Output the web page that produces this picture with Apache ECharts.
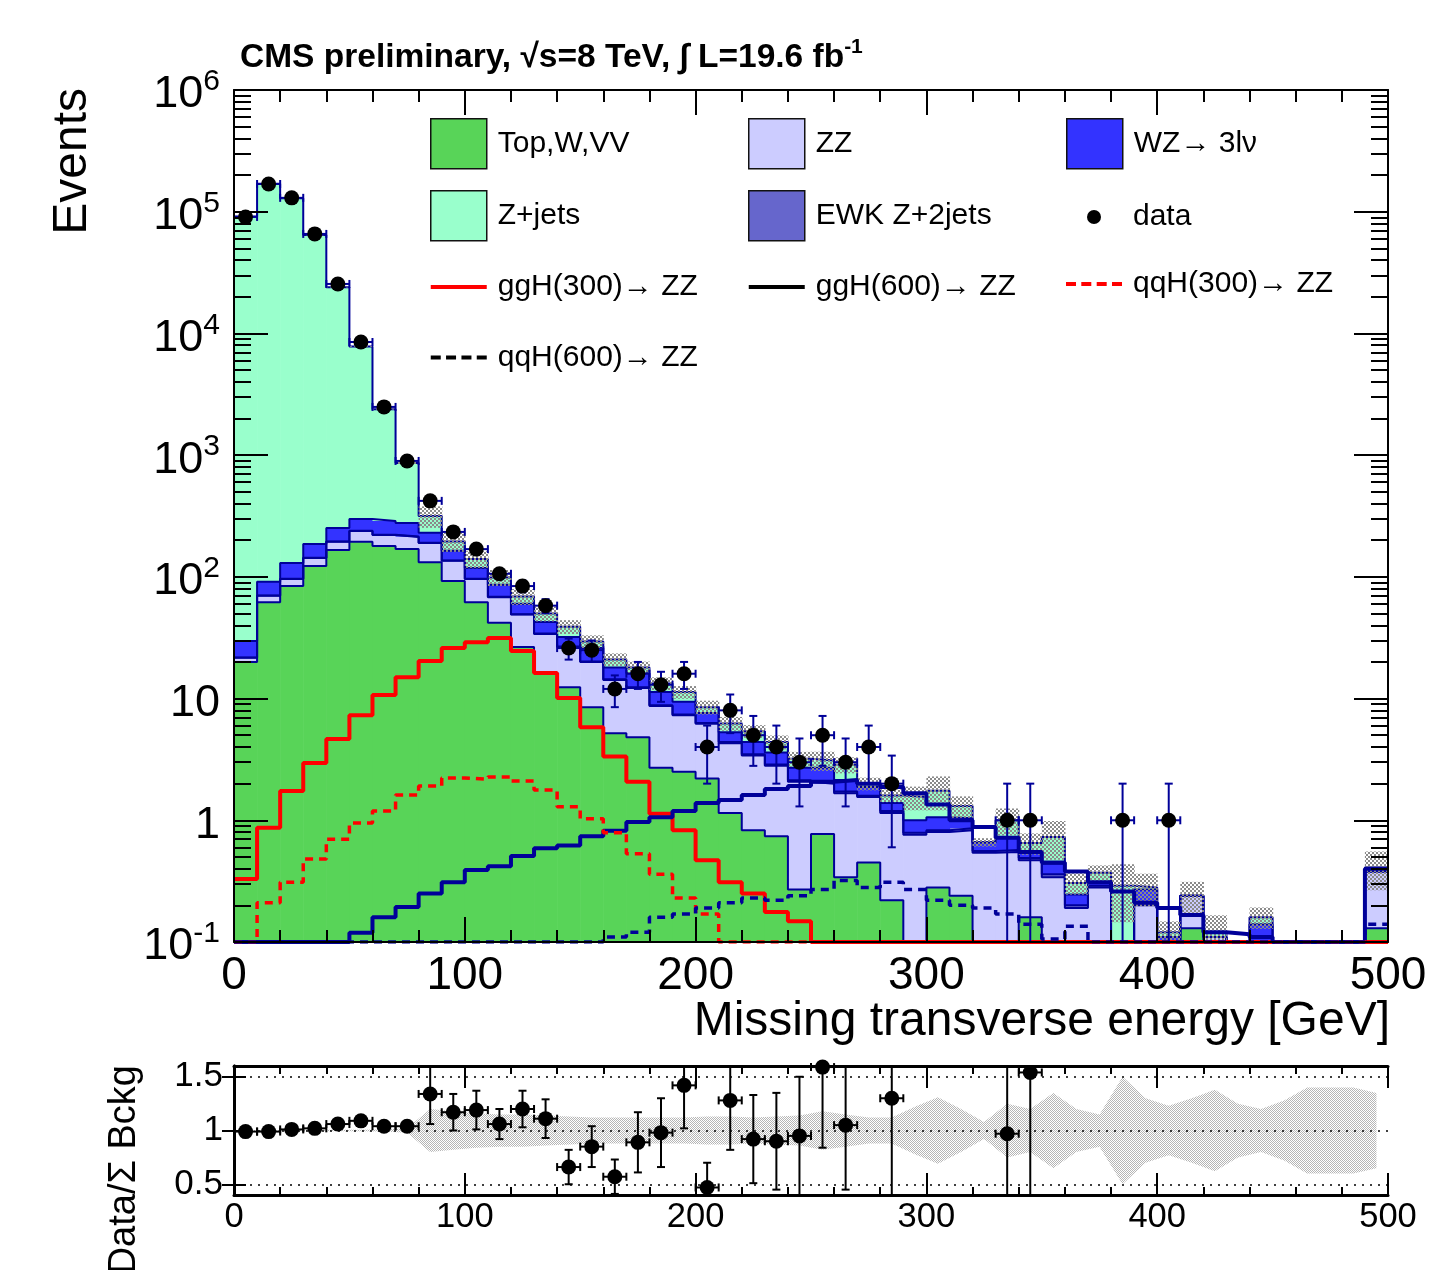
<!DOCTYPE html>
<html>
<head>
<meta charset="utf-8">
<script src="https://cdn.jsdelivr.net/npm/echarts@6/dist/echarts.min.js"></script>
<style>
html,body{margin:0;padding:0;background:#ffffff;}
#chart{width:1433px;height:1270px;}
</style>
</head>
<body>
<div id="chart"></div>
<script>
// ---------------- data ----------------
const binLow = [0,10,20,30,40,50,60,70,80,90,100,110,120,130,140,150,160,170,180,190,
  200,210,220,230,240,250,260,270,280,290,300,310,320,330,340,350,360,370,380,390,
  400,410,420,430,440,450,460,470,480,490];
const BIN_W = 10;

const dataCounts = [90600,169000,130000,65700,25500,8500,2490,896,421,234,
  169,106,84,58,26,25,12,16,13,16,
  4,8,5,4,3,5,3,4,2,0,
  0,0,0,1,1,0,0,0,1,0,
  1,0,0,0,0,0,0,0,0,0];
const dataErr = [301,411,361,256,160,92,50,30,20.5,15.3,
  13,10.3,9.2,7.6,5.1,5,3.5,4,3.6,4,
  2,2.8,2.2,2,1.7,2.2,1.7,2,1.4,0,
  0,0,0,1,1,0,0,0,1,0,
  1,0,0,0,0,0,0,0,0,0];

const topWVV = [20,62,84,123,166,194,179,169,132,92.5,
  62,42,26.5,16.2,12.4,8.5,5.2,4.8,2.7,2.5,
  2.2,1.15,0.83,0.74,0.27,0.77,0.34,0.45,0.22,0,
  0.28,0.24,0,0,0.16,0,0,0,0,0,
  0,0.13,0,0,0,0,0,0,0,0.13];
const zzBkg = [1.6,8,12,20,28,44,42,44,58,43,
  34,26,22.5,17.8,14.1,11.5,9.0,7.4,6.0,4.8,
  4.0,3.15,2.57,2.06,1.8,1.23,1.33,1.1,0.93,0.76,
  0.52,0.59,0.54,0.55,0.31,0.34,0.19,0.28,0,0.2,
  0.05,0.11,0.11,0,0.02,0,0,0,0,0.25];
const ewkBkg = [0.15,0.4,0.6,0.8,1.0,1.2,1.2,1.1,0.9,0.7,
  0.6,0.5,0.4,0.3,0.25,0.2,0.18,0.16,0.13,0.11,
  0.1,0.09,0.08,0.07,0.06,0.05,0.05,0.04,0.04,0.03,
  0.03,0.03,0.02,0.02,0.02,0.02,0.01,0.01,0,0.01,
  0.01,0,0,0,0.01,0,0,0,0,0];
const wzBkg = [7.9,20.6,33.4,42.2,57,59.8,65.8,62.9,39.1,27.3,
  21.4,17.5,10.6,8.3,5.25,5.8,3.6,3.8,2.5,2.0,
  1.3,0.91,0.92,0.73,0.57,0.65,0.42,0.29,0.2,0.21,
  0.23,0.18,0.1,0.15,0.06,0.08,0.046,0.02,0,0.06,
  0.05,0,0,0,0.11,0,0,0,0,0];
const zjetsBkg = [91470,169900,128870,64210,23750,7500,2100,585,86,32,
  22,13,9,7.4,7,3.5,3,1.8,2.0,1.9,
  0.9,0.95,1.0,0.8,0.5,0.4,0.72,0.12,0.21,0.55,
  0.69,0.27,0,0.28,0.1,0.29,0.06,0.06,0.29,0.01,
  0.01,0,0.01,0,0.02,0,0,0,0,0.03];
const totalRelUnc = [0.005,0.005,0.005,0.005,0.006,0.008,0.01,0.02,0.2,0.18,
  0.16,0.15,0.15,0.14,0.13,0.12,0.12,0.12,0.12,0.12,
  0.13,0.13,0.12,0.13,0.14,0.18,0.15,0.12,0.12,0.22,
  0.31,0.2,0.08,0.25,0.2,0.35,0.2,0.15,0.5,0.3,
  0.23,0.3,0.38,0.25,0.2,0.28,0.4,0.4,0.4,0.35];

const ggH300 = [0.33,0.87,1.74,2.96,4.66,7.3,10.7,15,20.4,26,
  29,31.5,24.6,16.2,10.1,5.8,3.35,2.07,1.13,0.83,
  0.47,0.31,0.25,0.176,0.148,0,0,0,0,0,
  0,0,0,0,0,0,0,0,0,0,
  0,0,0,0,0,0,0,0,0,0];
const ggH600 = [0,0,0,0,0,0.119,0.16,0.194,0.25,0.31,
  0.39,0.42,0.51,0.59,0.62,0.74,0.82,0.97,1.06,1.19,
  1.39,1.47,1.61,1.81,1.91,2.07,2.14,2.0,1.88,1.67,
  1.35,1.0,0.88,0.72,0.55,0.45,0.38,0.31,0.26,0.21,
  0.19,0.167,0.12,0.116,0.11,0,0,0,0,0.4];
const qqH300 = [0,0.21,0.31,0.48,0.70,0.95,1.19,1.61,1.91,2.23,
  2.18,2.27,2.1,1.77,1.29,1.03,0.79,0.53,0.36,0.23,
  0.17,0,0,0,0,0,0,0,0,0,
  0,0,0,0,0,0,0,0,0,0,
  0,0,0,0,0,0,0,0,0,0];
const qqH600 = [0,0,0,0,0,0,0,0,0,0,
  0,0,0,0,0,0,0.11,0.12,0.16,0.17,
  0.19,0.21,0.23,0.22,0.24,0.27,0.32,0.28,0.31,0.27,
  0.22,0.2,0.19,0.17,0.14,0.106,0.135,0.1,0,0,
  0,0,0,0,0,0,0,0,0,0.14];

const ratioVals = [0.99,0.99,1.01,1.02,1.06,1.09,1.04,1.04,1.34,1.17,
  1.19,1.06,1.2,1.11,0.66,0.85,0.57,0.89,0.98,1.42,
  0.47,1.28,0.92,0.9,0.95,1.59,1.05,null,1.3,null,
  null,null,null,0.97,1.54,null,null,null,null,null,
  null,null,null,null,null,null,null,null,null,null];
const ratioErr = [0.005,0.005,0.005,0.005,0.008,0.012,0.02,0.035,0.28,0.17,
  0.18,0.14,0.17,0.18,0.16,0.19,0.16,0.28,0.32,0.4,
  0.23,0.46,0.41,0.45,0.55,0.75,0.6,null,0.9,null,
  null,null,null,1.0,1.54,null,null,null,null,null,
  null,null,null,null,null,null,null,null,null,null];

const mainYTicks = [0.1,1,10,100,1000,10000,100000,1000000];
const ratioYTicks = [0.5,1,1.5];

// ---------------- styling ----------------
const FONT = "'Liberation Sans', Arial, Helvetica, sans-serif";
const NAVY = '#000099';
const Y_MIN = 0.1, Y_MAX = 1e6;
const R_MIN = 0.4, R_MAX = 1.6;

const minorYTicks = [];
for (let e = -1; e <= 5; e++) for (let m = 2; m <= 9; m++) minorYTicks.push(Number((m * Math.pow(10, e)).toPrecision(3)));

function makePattern(size, cells, color) {
  const c = document.createElement('canvas');
  c.width = size; c.height = size;
  const ctx = c.getContext('2d');
  ctx.fillStyle = color;
  cells.forEach(r => ctx.fillRect(r[0], r[1], r[2], r[3]));
  return {image: c, repeat: 'repeat'};
}
const hatchFill = makePattern(4, [[0,0,2,2],[2,2,2,2]], '#8a8a8a');
const bandFill = makePattern(2, [[0,0,1,1],[1,1,1,1]], '#b5b5b5');

const components = [
  {name: 'Top,W,VV', vals: topWVV, color: '#58d458'},
  {name: 'ZZ', vals: zzBkg, color: '#ccccff'},
  {name: 'EWK Z+2jets', vals: ewkBkg, color: '#6666cc'},
  {name: 'WZ→ 3lν', vals: wzBkg, color: '#3333ff'},
  {name: 'Z+jets', vals: zjetsBkg, color: '#99ffcc'}
];
let cum = binLow.map(() => 0);
const levels = components.map(c => {
  const lo = cum.slice();
  cum = cum.map((v, i) => v + c.vals[i]);
  return {lo, hi: cum.slice()};
});
const total = cum;
const clampY = v => Math.max(v, Y_MIN);

function rectRender(fill) {
  return function (params, api) {
    const lo = api.value(0), hi = api.value(1), b = api.value(2), t = api.value(3);
    if (!(t > b)) return null;
    const p0 = api.coord([lo, Math.min(t, Y_MAX)]);
    const p1 = api.coord([hi, Math.max(b, Y_MIN)]);
    return {type: 'rect', shape: {x: p0[0], y: p0[1], width: p1[0] - p0[0] + 0.6, height: p1[1] - p0[1]},
      style: {fill: fill}};
  };
}
function stepLine(vals, color, width, type, z, name) {
  const d = binLow.map((x, i) => [x, clampY(vals[i])]);
  d.push([binLow[binLow.length - 1] + BIN_W, clampY(vals[vals.length - 1])]);
  const s = {type: 'line', xAxisIndex: 0, yAxisIndex: 0, z: z, step: 'end', symbol: 'none', silent: true,
    clip: true, color: color, lineStyle: {color: color, width: width, type: type, cap: 'butt'}, data: d};
  if (name) s.name = name;
  return s;
}

const series = [];
components.forEach((c, k) => {
  series.push({
    type: 'custom', name: c.name, xAxisIndex: 0, yAxisIndex: 0, z: 2, silent: true,
    itemStyle: {color: c.color},
    encode: {x: [0, 1], y: [2, 3]},
    data: binLow.map((x, i) => [x, x + BIN_W, clampY(levels[k].lo[i]), clampY(levels[k].hi[i])]),
    renderItem: rectRender(c.color)
  });
});
components.forEach((c, k) => series.push(stepLine(levels[k].hi, NAVY, 2, 'solid', 3)));
// uncertainty hatch on the total
series.push({
  type: 'custom', xAxisIndex: 0, yAxisIndex: 0, z: 4, silent: true,
  encode: {x: [0, 1], y: [2, 3]},
  data: binLow.map((x, i) => [x, x + BIN_W, clampY(total[i] * (1 - totalRelUnc[i])), clampY(total[i] * (1 + totalRelUnc[i]))]),
  renderItem: rectRender(hatchFill)
});
// signals
series.push(stepLine(ggH300, '#ff0000', 4, 'solid', 5, 'ggH(300)→ ZZ'));
series.push(stepLine(ggH600, NAVY, 4, 'solid', 5, 'ggH(600)→ ZZ'));
series.push(stepLine(qqH300, '#ff0000', 3.5, [8, 6], 5, 'qqH(300)→ ZZ'));
series.push(stepLine(qqH600, NAVY, 3.5, [8, 6], 5, 'qqH(600)→ ZZ'));

// data points
function errRender(color, yMin, yMax) {
  return function (params, api) {
    const x = api.value(0), v = api.value(1), e = api.value(2), lo = api.value(3), hi = api.value(4);
    const topV = Math.min(v + e, yMax), botV = Math.max(v - e, yMin);
    const pc = api.coord([x, v]), pt = api.coord([x, topV]), pb = api.coord([x, botV]);
    const pl = api.coord([lo, v]), pr = api.coord([hi, v]);
    const st = {stroke: color, lineWidth: 2};
    const ch = [
      {type: 'line', shape: {x1: pc[0], y1: pt[1], x2: pc[0], y2: pb[1]}, style: st},
      {type: 'line', shape: {x1: pl[0], y1: pc[1], x2: pr[0], y2: pc[1]}, style: st},
      {type: 'line', shape: {x1: pl[0], y1: pc[1] - 4, x2: pl[0], y2: pc[1] + 4}, style: st},
      {type: 'line', shape: {x1: pr[0], y1: pc[1] - 4, x2: pr[0], y2: pc[1] + 4}, style: st}
    ];
    if (v + e < yMax) ch.push({type: 'line', shape: {x1: pc[0] - 4, y1: pt[1], x2: pc[0] + 4, y2: pt[1]}, style: st});
    if (v - e > yMin) ch.push({type: 'line', shape: {x1: pc[0] - 4, y1: pb[1], x2: pc[0] + 4, y2: pb[1]}, style: st});
    return {type: 'group', children: ch};
  };
}
const mainPts = [], mainErr = [];
binLow.forEach((x, i) => {
  if (dataCounts[i] > 0) {
    mainPts.push([x + BIN_W / 2, dataCounts[i]]);
    mainErr.push([x + BIN_W / 2, dataCounts[i], dataErr[i], x, x + BIN_W]);
  }
});
series.push({type: 'custom', xAxisIndex: 0, yAxisIndex: 0, z: 6, silent: true,
  encode: {x: [0, 3, 4], y: [1]}, data: mainErr, renderItem: errRender(NAVY, Y_MIN, Y_MAX)});
series.push({type: 'scatter', name: 'data', xAxisIndex: 0, yAxisIndex: 0, z: 7, silent: true,
  symbol: 'circle', symbolSize: 15, itemStyle: {color: '#000', opacity: 1}, data: mainPts});

// ratio panel
const centers = binLow.map(x => x + BIN_W / 2);
series.push({type: 'custom', xAxisIndex: 2, yAxisIndex: 4, z: 2, silent: true,
  encode: {x: [0], y: [1, 2]},
  data: centers.map((c, i) => [c, 1 + totalRelUnc[i], 1 - totalRelUnc[i]]),
  renderItem: function (params, api) {
    if (params.dataIndexInside !== 0) return null;
    const n = params.dataInsideLength;
    const up = [], dn = [];
    for (let j = 0; j < n; j++) {
      const x = api.value(0, j);
      up.push(api.coord([x, Math.min(api.value(1, j), R_MAX)]));
      dn.push(api.coord([x, Math.max(api.value(2, j), R_MIN)]));
    }
    return {type: 'polygon', shape: {points: up.concat(dn.reverse())}, style: {fill: bandFill}};
  }
});
const rPts = [], rErr = [];
binLow.forEach((x, i) => {
  const r = ratioVals[i];
  if (r !== null && r >= R_MIN && r <= R_MAX) {
    rPts.push([x + BIN_W / 2, r]);
    rErr.push([x + BIN_W / 2, r, ratioErr[i], x, x + BIN_W]);
  }
});
series.push({type: 'custom', xAxisIndex: 2, yAxisIndex: 4, z: 6, silent: true,
  encode: {x: [0, 3, 4], y: [1]}, data: rErr, renderItem: errRender('#000', R_MIN, R_MAX)});
series.push({type: 'scatter', xAxisIndex: 2, yAxisIndex: 4, z: 7, silent: true,
  symbol: 'circle', symbolSize: 15, itemStyle: {color: '#000', opacity: 1}, data: rPts});

// ---------------- axes ----------------
const tickStyle = w => ({color: '#000', width: w});
function xAxisDef(grid, pos, showLabel, fs, lw, majLen, minLen, margin) {
  return {type: 'value', gridIndex: grid, position: pos, min: 0, max: 500, interval: 100, z: 10,
    axisLine: {show: true, onZero: false, lineStyle: tickStyle(lw)},
    axisTick: {show: true, inside: true, length: majLen, lineStyle: tickStyle(2)},
    minorTick: {show: true, splitNumber: 5, length: minLen, lineStyle: tickStyle(2)},
    axisLabel: {show: showLabel, fontSize: fs, color: '#000', fontFamily: FONT, margin: margin},
    splitLine: {show: false}, minorSplitLine: {show: false}};
}
const yLabelRich = {
  b: {fontSize: 45, fontFamily: FONT, color: '#000', lineHeight: 46, padding: [10, 0, 0, 0]},
  s: {fontSize: 30, fontFamily: FONT, color: '#000', lineHeight: 30, verticalAlign: 'top'}
};
function logAxisDef(pos, ticks, len, showLabel, showLine) {
  return {type: 'log', logBase: 10, gridIndex: 0, position: pos, min: Y_MIN, max: Y_MAX, z: 10,
    axisLine: {show: showLine, lineStyle: tickStyle(2)},
    axisTick: {show: true, inside: true, length: len, customValues: ticks, lineStyle: tickStyle(2)},
    axisLabel: {show: showLabel, customValues: ticks, margin: 14, rich: yLabelRich,
      formatter: v => {
        const e = Math.round(Math.log10(v));
        if (e === 0) return '{b|1}';
        if (e === 1) return '{b|10}';
        return '{b|10}{s|' + e + '}';
      }},
    minorTick: {show: false}, splitLine: {show: false}};
}
function ratioYDef(pos, showLabel) {
  return {type: 'value', gridIndex: 1, position: pos, min: R_MIN, max: R_MAX, z: 10,
    axisLine: {show: true, lineStyle: tickStyle(3)},
    axisTick: {show: true, inside: true, length: 12, customValues: ratioYTicks, lineStyle: tickStyle(2)},
    axisLabel: {show: showLabel, customValues: ratioYTicks, fontSize: 35, color: '#000', fontFamily: FONT, margin: 11},
    splitLine: {show: pos === 'left', lineStyle: {color: '#000', width: 1.6, type: [2, 6]}},
    minorTick: {show: false}};
}

// ---------------- legend ----------------
const solidIcon = 'path://M0,0H56V4H0Z';
const dashIcon = 'path://M0,0H10V4H0ZM15.3,0H25.3V4H15.3ZM30.7,0H40.7V4H30.7ZM46,0H56V4H46Z';
const legText = {fontSize: 30, color: '#000', fontFamily: FONT, lineHeight: 50, padding: [0, 0, 0, 6]};
function legend(left, top, w, h, items, textStyle) {
  return {orient: 'vertical', left: left, top: top, itemWidth: w, itemHeight: h, itemGap: 20.5,
    padding: 0, selectedMode: false, textStyle: textStyle || legText, data: items};
}
const boxItem = (name, color) => ({name, icon: 'rect', itemStyle: {color, borderColor: '#111', borderWidth: 1.5}});
const lineItem = (name, color, dashed) => ({name, icon: dashed ? dashIcon : solidIcon, itemStyle: {color, borderWidth: 0}});

const option = {
  animation: false,
  backgroundColor: '#ffffff',
  title: {
    left: 240, top: 37, padding: 0,
    text: '{a|CMS preliminary, √s=8 TeV, ∫ L=19.6 fb}{u|-1}',
    textStyle: {rich: {
      a: {fontSize: 33.5, fontWeight: 'bold', fontFamily: FONT, color: '#000', lineHeight: 34, padding: [8, 0, 0, 0]},
      u: {fontSize: 21, fontWeight: 'bold', fontFamily: FONT, color: '#000', lineHeight: 22, verticalAlign: 'top'}
    }}
  },
  legend: [
    legend(430, 118, 56, 50, [boxItem('Top,W,VV', '#58d458'), boxItem('Z+jets', '#99ffcc'),
      lineItem('ggH(300)→ ZZ', '#ff0000', false), lineItem('qqH(600)→ ZZ', '#000000', true)]),
    legend(748, 118, 56, 50, [boxItem('ZZ', '#ccccff'), boxItem('EWK Z+2jets', '#6666cc'),
      lineItem('ggH(600)→ ZZ', '#000000', false)]),
    legend(1066, 118, 56, 50, [boxItem('WZ→ 3lν', '#3333ff')]),
    legend(1087, 202, 56, 14, [{name: 'data', icon: 'circle', itemStyle: {color: '#000', borderWidth: 0, opacity: 1}}],
      {fontSize: 30, color: '#000', fontFamily: FONT, lineHeight: 30, padding: [0, 0, 0, 6]}),
    legend(1066, 259, 56, 50, [lineItem('qqH(300)→ ZZ', '#ff0000', true)])
  ],
  grid: [
    {left: 234, top: 90, width: 1154, height: 852, show: false},
    {left: 234, top: 1066, width: 1154, height: 129, show: false}
  ],
  xAxis: [
    xAxisDef(0, 'bottom', true, 46, 2, 25, 12, 11),
    xAxisDef(0, 'top', false, 46, 2, 25, 12, 8),
    xAxisDef(1, 'bottom', true, 34.5, 3, 22, 8, 5),
    xAxisDef(1, 'top', false, 34.5, 3, 22, 8, 5)
  ],
  yAxis: [
    logAxisDef('left', mainYTicks, 34, true, true),
    logAxisDef('left', minorYTicks, 17, false, false),
    logAxisDef('right', mainYTicks, 34, false, true),
    logAxisDef('right', minorYTicks, 17, false, false),
    ratioYDef('left', true),
    ratioYDef('right', false)
  ],
  graphic: [
    {type: 'text', x: 1390, y: 1022, z: 20,
      style: {text: 'Missing transverse energy [GeV]', fontSize: 48, fontFamily: FONT, fill: '#000', align: 'right', verticalAlign: 'middle'}},
    {type: 'text', x: 73, y: 88, rotation: Math.PI / 2, z: 20,
      style: {text: 'Events', fontSize: 48, fontFamily: FONT, fill: '#000', align: 'right', verticalAlign: 'middle'}},
    {type: 'text', x: 125, y: 1065, rotation: Math.PI / 2, z: 20,
      style: {text: 'Data/Σ Bckg', fontSize: 38, fontFamily: FONT, fill: '#000', align: 'right', verticalAlign: 'middle'}}
  ],
  series: series
};

const chart = echarts.init(document.getElementById('chart'), null, {renderer: 'canvas'});
chart.setOption(option);
</script>
</body>
</html>
